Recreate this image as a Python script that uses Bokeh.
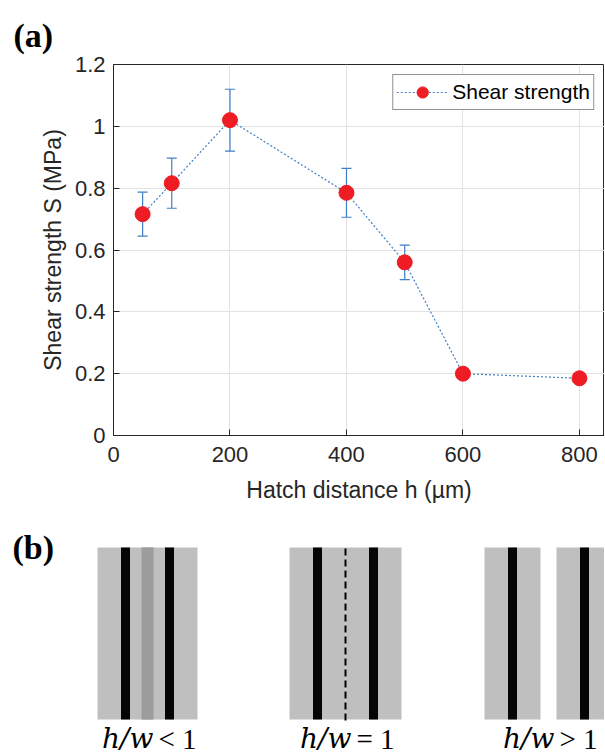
import math
from bokeh.plotting import figure
from bokeh.layouts import column
from bokeh.models import Range1d, FixedTicker, Legend, LegendItem, ColumnDataSource
from bokeh.core.properties import value
from bokeh.embed import file_html
from bokeh.resources import INLINE

# ---- data (panel a) ----
hatch_um = [50, 100, 200, 400, 500, 600, 800]
shear_mpa = [0.716, 0.816, 1.020, 0.785, 0.560, 0.200, 0.185]
shear_err = [0.071, 0.081, 0.100, 0.079, 0.056, 0.012, 0.010]
x_ticks = [0, 200, 400, 600, 800]
y_ticks = [0, 0.2, 0.4, 0.6, 0.8, 1, 1.2]
y_tick_labels = ["0", "0.2", "0.4", "0.6", "0.8", "1", "1.2"]
series_name = "Shear strength"
x_label = "Hatch distance h (\u00b5m)"
y_label = "Shear strength S (MPa)"

# ---- schematic (panel b) ----
case_labels = ["<", "=", ">"]
case_hatch = [44, 56, 72]          # hatch distance in schematic units (px)
case_center = [147, 345, 548]
track_width = 56

BLUE = "#3f7fc4"
RED = "#ee1c24"
DARK = "#262626"
FONT = "Liberation Sans"

W = 604
X_END = 843
Y_END = 1.2
LEFT, TOP, BOTTOM = 113, 64, 83
H1 = 518

lower = [s - e for s, e in zip(shear_mpa, shear_err)]
upper = [s + e for s, e in zip(shear_mpa, shear_err)]
src = ColumnDataSource(dict(x=hatch_um, y=shear_mpa, lo=lower, hi=upper))

p = figure(width=W, height=H1, output_backend="svg", toolbar_location=None,
           x_range=Range1d(0, X_END), y_range=Range1d(0, Y_END),
           min_border_left=LEFT, min_border_top=TOP, min_border_bottom=BOTTOM, min_border_right=0,
           title="(a)")
p.frame_align = False
p.background_fill_color = "white"
p.border_fill_color = "white"
p.outline_line_color = DARK

p.title.align = "left"
p.title.offset = -100
p.title.standoff = 21
p.title.text_font = "Liberation Serif"
p.title.text_font_style = "bold"
p.title.text_font_size = "34px"
p.title.text_color = "black"

p.xaxis.ticker = FixedTicker(ticks=x_ticks)
p.yaxis.ticker = FixedTicker(ticks=y_ticks)

for ax in [p.xaxis[0], p.yaxis[0]]:
    ax.major_tick_in = 6
    ax.major_tick_out = 0
    ax.minor_tick_in = 0
    ax.minor_tick_out = 0
    ax.axis_line_color = DARK
    ax.major_tick_line_color = DARK
    ax.major_label_text_font = FONT
    ax.major_label_text_font_size = "22px"
    ax.major_label_text_color = DARK
    ax.axis_label_text_font = FONT
    ax.axis_label_text_font_size = "23px"
    ax.axis_label_text_font_style = "normal"
    ax.axis_label_text_color = DARK

p.yaxis.major_label_overrides = {t: l for t, l in zip(y_ticks, y_tick_labels)}
p.xaxis.axis_label = x_label
p.yaxis.axis_label = y_label
p.xaxis.major_label_standoff = 11
p.yaxis.major_label_standoff = 8
p.xaxis.axis_label_standoff = 12
p.yaxis.axis_label_standoff = 6

p.xgrid.ticker = FixedTicker(ticks=x_ticks)
p.ygrid.ticker = FixedTicker(ticks=y_ticks)
p.grid.grid_line_color = "#e2e2e2"

line_r = p.line("x", "y", source=src, line_color=BLUE, line_width=1.2, line_dash="2 2")
p.segment(x0="x", y0="lo", x1="x", y1="hi", source=src, line_color=BLUE, line_width=1.2)
p.scatter("x", "lo", source=src, marker="dash", size=10, line_color=BLUE, line_width=1.2)
p.scatter("x", "hi", source=src, marker="dash", size=10, line_color=BLUE, line_width=1.2)
dot_r = p.scatter("x", "y", source=src, marker="circle", size=15, fill_color=RED, line_color=RED)

legend = Legend(items=[LegendItem(label=series_name, renderers=[line_r, dot_r])],
                location="top_right", margin=10, padding=3, glyph_width=52, glyph_height=28,
                label_height=24, label_standoff=4, spacing=0,
                label_text_font=FONT, label_text_font_size="21px", label_text_color="black",
                border_line_color=DARK, border_line_width=1, background_fill_alpha=1)
p.add_layout(legend)

# ---- panel b ----
H2 = 236
q = figure(width=W, height=H2, output_backend="svg", toolbar_location=None,
           x_range=Range1d(0, W), y_range=Range1d(H1 + H2, H1),
           x_axis_location=None, y_axis_location=None, min_border=0)
q.frame_align = False
q.grid.visible = False
q.outline_line_color = None
q.background_fill_color = "white"
q.border_fill_color = "white"

top_y, bot_y = 547, 719
stripe = 9
for lab, h, c in zip(case_labels, case_hatch, case_center):
    c1, c2 = c - h / 2, c + h / 2
    q.quad(left=[c1 - track_width / 2, c2 - track_width / 2],
           right=[c1 + track_width / 2, c2 + track_width / 2],
           top=[top_y] * 2, bottom=[bot_y] * 2, fill_color="#bfbfbf", line_color=None)
    if h < track_width:
        q.quad(left=[c2 - track_width / 2], right=[c1 + track_width / 2],
               top=[top_y], bottom=[bot_y], fill_color="#9c9c9c", line_color=None)
    if h == track_width:
        q.segment(x0=[c], y0=[top_y + 1], x1=[c], y1=[bot_y + 1], line_color="black",
                  line_width=2, line_dash="7 4")
    q.quad(left=[c1 - stripe / 2, c2 - stripe / 2], right=[c1 + stripe / 2, c2 + stripe / 2],
           top=[top_y] * 2, bottom=[bot_y] * 2, fill_color="#050505", line_color=None)
    q.text(x=[c + 6], y=[738], text=["h/w"], text_align="right", text_baseline="middle",
           text_font=value("DejaVu Serif"), text_font_style="italic",
           text_font_size="28px", text_color="black")
    q.text(x=[c + 11], y=[738], text=[lab + " 1"], text_align="left", text_baseline="middle",
           text_font=value("Liberation Serif"), text_font_size="29px", text_color="black")

q.text(x=[12], y=[547], text=["(b)"], text_align="left", text_baseline="middle",
       text_font=value("Liberation Serif"), text_font_style="bold",
       text_font_size="34px", text_color="black")

lay = column(p, q, spacing=0)
open("out.html", "w").write(file_html(lay, INLINE))
